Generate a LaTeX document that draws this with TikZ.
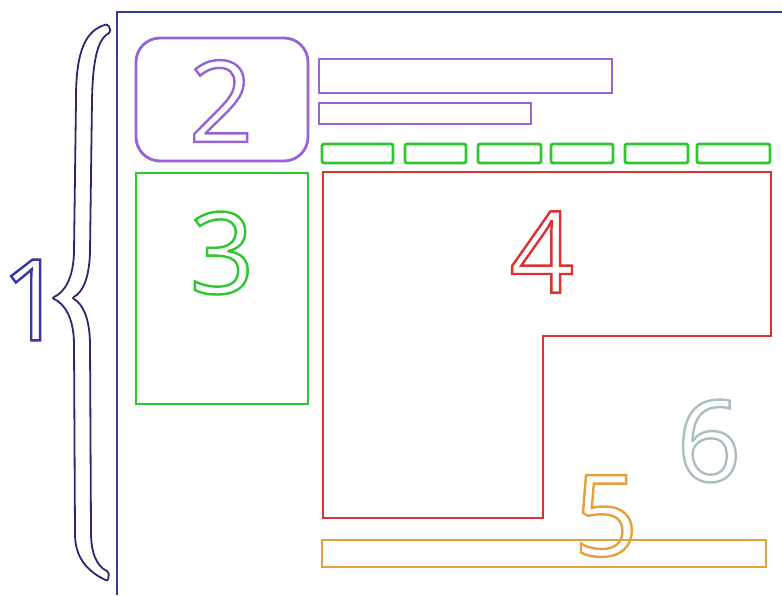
\documentclass[tikz,border=0pt]{standalone}
\usepackage{fontspec}
\setmainfont{Open Sans}
\definecolor{framecol}{RGB}{55,55,160}
\definecolor{bracecol}{RGB}{40,40,115}
\definecolor{purplecol}{RGB}{150,100,215}
\definecolor{greencol}{RGB}{45,200,45}
\definecolor{redcol}{RGB}{220,50,50}
\definecolor{orangecol}{RGB}{230,160,60}
\definecolor{greycol}{RGB}{170,192,192}
% hollow digits: stroke only
\newcommand\hollow[1]{\special{pdf:literal direct 1 Tr 2.4 w}#1\special{pdf:literal direct 0 Tr}}
\tikzset{
  part/.style={line width=2.8pt},
  digit/.style={inner sep=0pt, font=\fontsize{113}{113}\selectfont},
}
\begin{document}
\begin{tikzpicture}[x=1pt,y=-1pt]
\useasboundingbox (0,0) rectangle (782,595);

% page frame
\draw[framecol, part] (117,595) -- (117,12) -- (782,12);

% brace
\draw[bracecol, line width=1.8pt, fill=white, rounded corners=2pt]
  (108,24) .. controls (86,30) and (76,50) .. (76,100) -- (74,252)
  .. controls (73,278) and (65,292) .. (52,298)
  .. controls (65,304) and (73,318) .. (74,342) -- (75,535)
  .. controls (76,560) and (90,573) .. (108,581) -- (109,572)
  .. controls (96,566) and (91,552) .. (91,530) -- (90,342)
  .. controls (89,318) and (83,304) .. (72,298)
  .. controls (83,292) and (89,278) .. (90,252) -- (92,100)
  .. controls (93,55) and (99,38) .. (111,32) -- cycle;

% header
\draw[purplecol, part, rounded corners=24pt] (136,38) rectangle (308,161);
\draw[purplecol, part] (319,59) rectangle (612,93);
\draw[purplecol, part] (319,103) rectangle (531,124);

% menu tabs
\foreach \xa/\xb in {322/393, 405/466, 478/541, 551/613, 625/688, 697/770}
  \draw[greencol, part, rounded corners=2pt] (\xa,144) rectangle (\xb,163);

% sidebar
\draw[greencol, part] (136,173) rectangle (308,404);

% content
\draw[redcol, part] (323,172) -- (771,172) -- (771,336) -- (543,336)
  -- (543,518) -- (323,518) -- cycle;

% footer
\draw[orangecol, part] (322,540) rectangle (766,567);

% labels
\node[digit, text=framecol] (lblone) at (33,300) {\hollow{1}};
\node[digit, text=purplecol] (lbltwo) at (221,101) {\hollow{2}};
\node[digit, text=greencol] (lblthree) at (222,253) {\hollow{3}};
\node[digit, text=redcol] (lblfour) at (542,252) {\hollow{4}};
\node[digit, text=orangecol] (lblfive) at (606,516) {\hollow{5}};
\node[digit, text=greycol] (lblsix) at (709,441) {\hollow{6}};
\end{tikzpicture}
\end{document}
